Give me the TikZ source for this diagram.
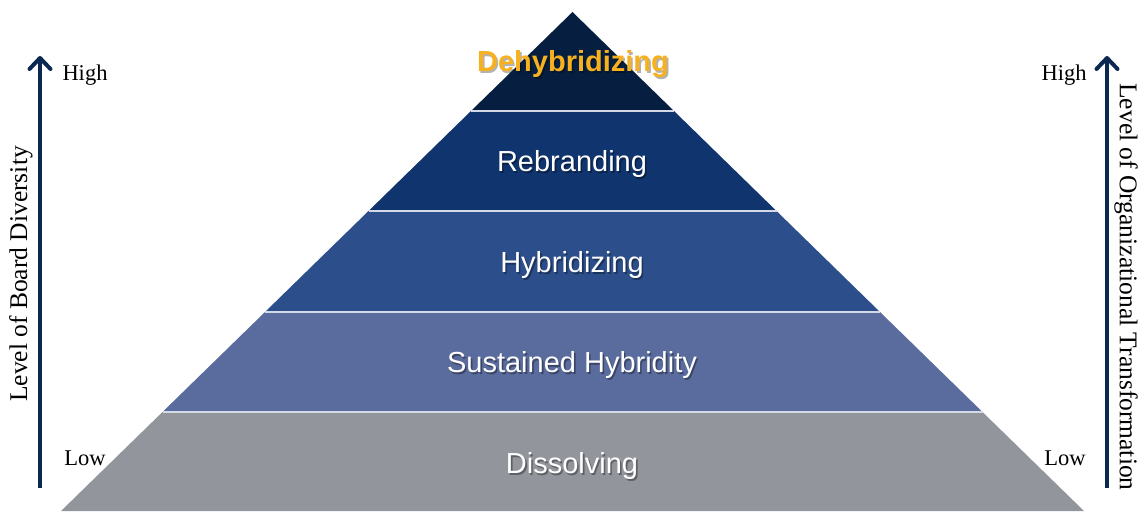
\documentclass[tikz,border=0pt]{standalone}
\usepackage{fontspec}
\setmainfont{Liberation Serif}
\newfontfamily\labelsans{Liberation Sans}
\usetikzlibrary{arrows.meta}

\definecolor{tierTop}{HTML}{061F40}
\definecolor{tierRebrand}{HTML}{10346E}
\definecolor{tierHybrid}{HTML}{2C4F8C}
\definecolor{tierSustain}{HTML}{5A6B9D}
\definecolor{tierDissolve}{HTML}{92959C}
\definecolor{tierSep}{HTML}{D3D9E6}
\definecolor{axisBlue}{HTML}{0B2850}
\definecolor{peakGold}{HTML}{F7B11F}

\tikzset{
  tiertext/.style={font=\labelsans\fontsize{29}{34}\selectfont, text=white, inner sep=0pt},
  tiershadow/.style={font=\labelsans\fontsize{29}{34}\selectfont, text=black, text opacity=0.35, inner sep=0pt},
  peaktext/.style={font=\labelsans\bfseries\fontsize{29}{34}\selectfont, text=peakGold, inner sep=0pt},
  peakshadow/.style={font=\labelsans\bfseries\fontsize{29}{34}\selectfont, text=black, text opacity=0.3, inner sep=0pt},
  levelText/.style={font=\fontsize{22.5}{26}\selectfont, text=black, inner sep=0pt},
  axisTitle/.style={font=\fontsize{25.5}{30}\selectfont, text=black, inner sep=0pt},
  axisArrow/.style={draw=axisBlue, line width=4pt,
    -{Straight Barb[length=11pt,width=21pt,line width=4pt,round]}},
  tierSepLine/.style={draw=tierSep, line width=1.6pt}
}

\newcommand\tierlabel[4]{% name, x, y, text
  \node[tiershadow] (#1-shadow) at (#2+1.6,#3+1.6) {#4};
  \node[tiertext] (#1) at (#2,#3) {#4};}

\begin{document}
\begin{tikzpicture}[x=1pt,y=-1pt]
\useasboundingbox (0,0) rectangle (1145,511);

% pyramid tiers (apex at 572.5,12; slope 1.025 px per px)
\fill[tierDissolve] (162.5,412) -- (982.5,412) -- (1084,511) -- (61,511) -- cycle;
\fill[tierSustain]  (265,312) -- (880,312) -- (982.5,412) -- (162.5,412) -- cycle;
\fill[tierHybrid]   (368.5,211) -- (776.5,211) -- (880,312) -- (265,312) -- cycle;
\fill[tierRebrand]  (471,111) -- (674,111) -- (776.5,211) -- (368.5,211) -- cycle;
\fill[tierTop]      (572.5,12) -- (674,111) -- (471,111) -- cycle;

% light separators between tiers
\draw[tierSepLine] (471,111) -- (674,111);
\draw[tierSepLine] (368.5,211) -- (776.5,211);
\draw[tierSepLine] (265,312) -- (880,312);
\draw[tierSepLine] (162.5,412) -- (982.5,412);

% tier labels
\node[peakshadow] (peak-shadow) at (573+1.6,64+1.6) {Dehybridizing};
\node[peaktext] (peak) at (573,64) {Dehybridizing};
\tierlabel{rebrand}{572}{164}{Rebranding}
\tierlabel{hybrid}{572}{265}{Hybridizing}
\tierlabel{sustain}{572}{365}{Sustained Hybridity}
\tierlabel{dissolve}{572}{466}{Dissolving}

% left axis: board diversity
\coordinate (lbot) at (40,488);
\coordinate (ltop) at (40,56);
\draw[axisArrow] (lbot) -- (ltop);
\node[levelText] (lhigh) at (85,75) {High};
\node[levelText] (llow) at (85,458) {Low};
\node[axisTitle, rotate=90] (ltitle) at (21,274) {Level of Board Diversity};

% right axis: organizational transformation
\coordinate (rbot) at (1107,488);
\coordinate (rtop) at (1107,56);
\draw[axisArrow] (rbot) -- (rtop);
\node[levelText] (rhigh) at (1064,75) {High};
\node[levelText] (rlow) at (1065,458) {Low};
\node[axisTitle, rotate=-90] (rtitle) at (1126,287) {Level of Organizational Transformation};
\end{tikzpicture}
\end{document}
